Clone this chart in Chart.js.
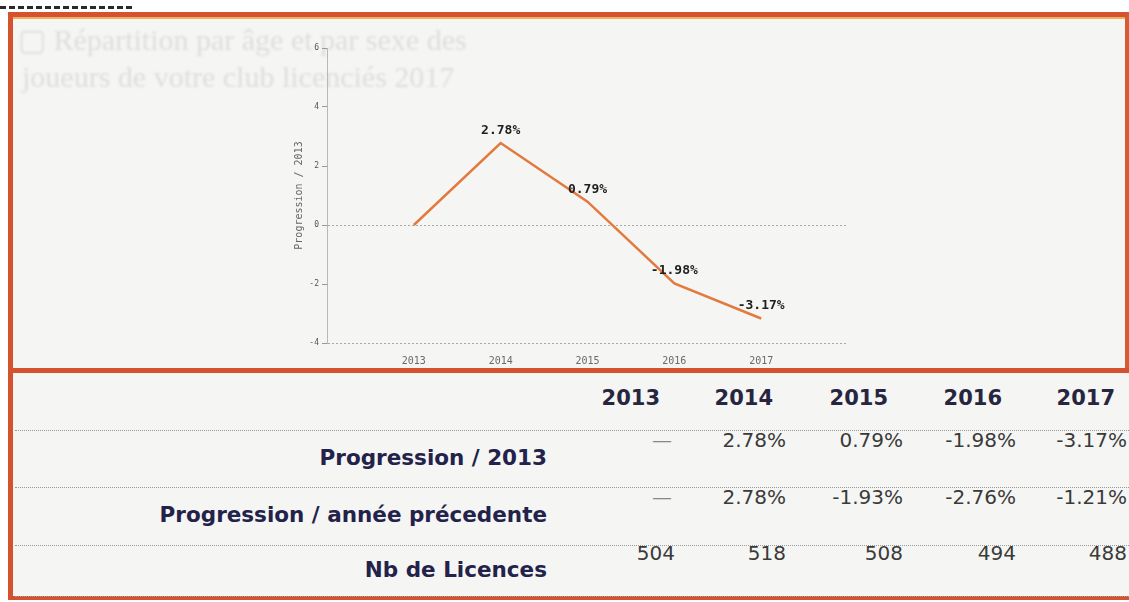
<!DOCTYPE html>
<html>
<head>
<meta charset="utf-8">
<script src="https://cdn.jsdelivr.net/npm/chart.js@4"></script>
<style>
  html, body { margin: 0; padding: 0; }
  body { width: 1129px; height: 602px; background: #fff; position: relative; overflow: hidden; font-family: "DejaVu Sans", sans-serif; }
  .dash-top { position: absolute; left: 0; top: 6px; width: 132px; border-top: 3px dashed #2a2a2a; }
  .panel { position: absolute; background: #f5f5f3; box-sizing: border-box; }
  #top-panel { left: 8px; top: 12px; width: 1121px; height: 358px; border-top: 5px solid #d4532e; border-left: 5px solid #d4532e; border-right: 4px solid #d85a34; box-shadow: inset 0 2px 0 #efb060; }
  #bottom-panel { left: 8px; top: 368px; width: 1130px; height: 232px; border-top: 5px solid #d4532e; border-left: 5px solid #d4532e; border-bottom: 4px solid #d4532e; }
  .ghost { position: absolute; font-family: "Liberation Serif", serif; font-size: 30px; color: #dededc; white-space: nowrap; filter: blur(1px); }
  #chart-box { position: absolute; left: 270px; top: 30px; width: 600px; height: 338px; }
  .rule { position: absolute; left: 15px; width: 1114px; border-top: 1px dotted #9a9a9a; }
  .cell { position: absolute; width: 140px; text-align: right; white-space: nowrap; }
  .head { font-weight: bold; font-size: 21px; line-height: 26px; color: #262640; }
  .val { font-size: 20px; line-height: 24px; color: #3a3a3a; }
  .dash { color: #888; }
  .label { position: absolute; width: 500px; text-align: right; font-weight: bold; font-size: 21.5px; line-height: 26px; color: #22224a; white-space: nowrap; }
</style>
</head>
<body>
<div class="dash-top"></div>
<div class="panel" id="top-panel"></div>
<div class="panel" id="bottom-panel"></div>
<div class="ghost" style="left:18px; top:22px">&#9634; Répartition par âge et par sexe des</div>
<div class="ghost" style="left:22px; top:60px">joueurs de votre club licenciés 2017</div>
<div id="chart-box"><canvas id="progress-chart"></canvas></div>
<div id="table"></div>
<script>
const years = [2013, 2014, 2015, 2016, 2017];
const progression2013 = [0, 2.78, 0.79, -1.98, -3.17];
const progressionPrev = [null, 2.78, -1.93, -2.76, -1.21];
const licences = [504, 518, 508, 494, 488];
const rowLabels = ['Progression / 2013', 'Progression / année précedente', 'Nb de Licences'];

// table layout (page pixels)
const headRight = [660, 773, 888, 1002, 1115];
const valRight = [675, 786, 903, 1016, 1127];
const rowCenters = [440, 497, 553];
const labelCenters = [458, 515, 570];
const ruleTops = [430, 487, 545, 596];

const table = document.getElementById('table');
const addDiv = (cls, text, left, top, extra) => {
    const d = document.createElement('div');
    d.className = cls;
    d.textContent = text;
    d.style.left = left + 'px';
    d.style.top = top + 'px';
    if (extra) d.className += ' ' + extra;
    table.appendChild(d);
    return d;
};

ruleTops.forEach(t => addDiv('rule', '', 15, t));
years.forEach((y, i) => addDiv('cell head', String(y), headRight[i] - 140, 398 - 13));

const fmtPct = v => v.toFixed(2) + '%';
const rows = [
    progression2013.map((v, i) => i === 0 ? null : v),
    progressionPrev,
    licences
];
rows.forEach((row, r) => {
    row.forEach((v, i) => {
        let text, extra;
        if (v === null) { text = '—'; extra = 'dash'; }
        else text = r === 2 ? String(v) : fmtPct(v);
        const right = v === null ? valRight[i] - 3 : valRight[i];
        addDiv('cell val', text, right - 140, rowCenters[r] - 12, extra);
    });
    addDiv('label', rowLabels[r], 547 - 500, labelCenters[r] - 13);
});

// data labels above each point (skip the base year)
const pointLabels = {
    id: 'pointLabels',
    afterDatasetsDraw(chart) {
        const ctx = chart.ctx;
        const meta = chart.getDatasetMeta(0);
        ctx.save();
        ctx.font = 'bold 13px "DejaVu Sans Mono", monospace';
        ctx.fillStyle = '#1e1e1e';
        ctx.textAlign = 'center';
        ctx.textBaseline = 'bottom';
        meta.data.forEach((pt, i) => {
            if (i === 0) return;
            ctx.fillText(fmtPct(progression2013[i]), pt.x, pt.y - 6);
        });
        ctx.restore();
    }
};

const ctx = document.getElementById('progress-chart').getContext('2d');
const progressChart = new Chart(ctx, {
    type: 'line',
    data: {
        datasets: [{
            data: years.map((y, i) => ({ x: y, y: progression2013[i] })),
            borderColor: '#e27a3e',
            borderWidth: 2.5,
            pointRadius: 0,
            tension: 0,
            fill: false
        }]
    },
    options: {
        responsive: true,
        maintainAspectRatio: false,
        animation: false,
        layout: { padding: { left: 21, right: 22, top: 18, bottom: 0 } },
        plugins: { legend: { display: false }, tooltip: { enabled: false } },
        scales: {
            x: {
                type: 'linear',
                min: 2012,
                max: 2018,
                grid: { display: false },
                border: { display: false },
                ticks: {
                    stepSize: 1,
                    autoSkip: false,
                    padding: 4,
                    color: '#6a6a6a',
                    font: { family: '"DejaVu Sans Mono", monospace', size: 10 },
                    callback: v => years.includes(v) ? String(v) : ''
                },
                afterFit: scale => { scale.height = 25; }
            },
            y: {
                min: -4,
                max: 6,
                grid: {
                    color: c => (c.tick && (c.tick.value === 0 || c.tick.value === -4)) ? '#a8a8a8' : 'rgba(0,0,0,0)',
                    tickColor: '#999',
                    tickLength: 5,
                    lineWidth: 1
                },
                border: { display: true, color: '#b8b8b8', width: 1, dash: [2, 2] },
                ticks: {
                    stepSize: 2,
                    padding: 3,
                    color: '#555',
                    font: { family: '"DejaVu Sans Mono", monospace', size: 8 }
                },
                title: {
                    display: true,
                    text: 'Progression / 2013',
                    color: '#666',
                    padding: 2,
                    font: { family: '"DejaVu Sans Mono", monospace', size: 10 }
                },
                afterFit: scale => { scale.width = 36; }
            }
        }
    },
    plugins: [pointLabels]
});
</script>
</body>
</html>
